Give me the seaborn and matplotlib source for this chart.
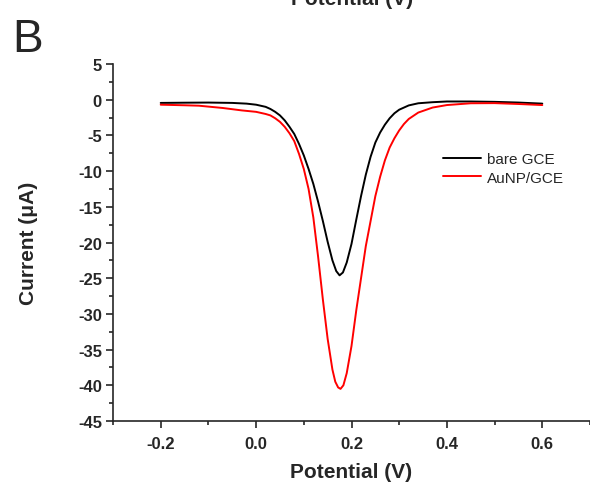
import pandas as pd
import matplotlib.pyplot as plt
import seaborn as sns
from matplotlib.ticker import MultipleLocator

# bare GCE curve
bare_v = [-0.20, -0.15, -0.10, -0.05, -0.02, 0.00, 0.02, 0.03, 0.04, 0.05,
          0.06, 0.07, 0.08, 0.09, 0.10, 0.11, 0.12, 0.13, 0.14, 0.15,
          0.16, 0.168, 0.175, 0.182, 0.19, 0.20, 0.21, 0.22, 0.23, 0.24,
          0.25, 0.26, 0.27, 0.28, 0.29, 0.30, 0.32, 0.34, 0.37, 0.40,
          0.45, 0.50, 0.55, 0.60]
bare_i = [-0.45, -0.42, -0.40, -0.45, -0.55, -0.70, -1.0, -1.3, -1.7, -2.2,
          -2.9, -3.8, -4.8, -6.2, -7.8, -9.7, -11.8, -14.3, -17.0, -19.9,
          -22.5, -24.0, -24.6, -24.2, -22.8, -20.2, -16.8, -13.5, -10.5, -8.0,
          -6.0, -4.6, -3.5, -2.6, -1.9, -1.4, -0.8, -0.5, -0.35, -0.25,
          -0.25, -0.30, -0.40, -0.55]

# AuNP/GCE curve
aunp_v = [-0.20, -0.15, -0.12, -0.07, -0.03, 0.00, 0.02, 0.03, 0.04, 0.05,
          0.06, 0.07, 0.08, 0.09, 0.10, 0.11, 0.12, 0.13, 0.14, 0.15,
          0.16, 0.166, 0.172, 0.177, 0.183, 0.19, 0.20, 0.21, 0.22, 0.23,
          0.24, 0.25, 0.26, 0.27, 0.28, 0.29, 0.30, 0.31, 0.32, 0.34,
          0.37, 0.40, 0.45, 0.50, 0.55, 0.60]
aunp_i = [-0.70, -0.78, -0.84, -1.16, -1.5, -1.7, -2.0, -2.2, -2.6, -3.1,
          -3.8, -4.7, -5.8, -7.6, -9.7, -12.5, -16.5, -22.0, -28.0, -33.5,
          -37.8, -39.5, -40.3, -40.5, -40.0, -38.3, -34.5, -29.5, -25.0, -20.5,
          -17.0, -13.5, -10.8, -8.5, -6.7, -5.4, -4.3, -3.4, -2.7, -1.8,
          -1.1, -0.75, -0.50, -0.48, -0.60, -0.75]

labels = ["bare GCE", "AuNP/GCE"]

df = pd.concat([
    pd.DataFrame({"Potential": bare_v, "Current": bare_i, "Electrode": labels[0]}),
    pd.DataFrame({"Potential": aunp_v, "Current": aunp_i, "Electrode": labels[1]}),
])

sns.set_style("ticks")
plt.rcParams["font.family"] = ["Liberation Sans", "DejaVu Sans"]
plt.rcParams["axes.unicode_minus"] = False

fig = plt.figure(figsize=(5.9, 4.89), dpi=100)
ax = fig.add_axes([113 / 590, 1 - 422 / 489, 1 - 113 / 590, (422 - 65) / 489])

sns.lineplot(data=df, x="Potential", y="Current", hue="Electrode",
             palette=["black", "#ff0000"], sort=False, estimator=None,
             linewidth=1.4, ax=ax)

ax.set_xlim(-0.3, 0.7)
ax.set_ylim(-45, 5)
ax.xaxis.set_major_locator(MultipleLocator(0.2))
ax.xaxis.set_minor_locator(MultipleLocator(0.1))
ax.yaxis.set_major_locator(MultipleLocator(5))
ax.yaxis.set_minor_locator(MultipleLocator(2.5))
ax.xaxis.set_major_formatter(lambda v, p: f"{v:.1f}")

sns.despine(ax=ax)
for s in ["left", "bottom"]:
    ax.spines[s].set_linewidth(1.2)
ax.tick_params(which="major", length=5, width=1.2, labelsize=12)
ax.tick_params(which="minor", length=3, width=1.2)
ax.tick_params(axis="y", pad=3)
ax.tick_params(axis="x", pad=6)
for t in ax.get_xticklabels() + ax.get_yticklabels():
    t.set_fontweight("bold")

ax.set_xlabel("Potential (V)", fontsize=15, fontweight="bold")
ax.set_ylabel("Current (\u03bcA)", fontsize=15, fontweight="bold")
ax.xaxis.set_label_coords(0.5, -0.115)
ax.yaxis.set_label_coords(-0.157, 0.5)

ax.legend(title=None, frameon=False, fontsize=11, loc="upper left",
          bbox_to_anchor=(443 / 590, 1 - 153 / 489), bbox_transform=fig.transFigure,
          borderaxespad=0, borderpad=0, handlelength=2.5, handletextpad=0.35,
          labelspacing=0.3)

fig.text(0.02, 1 - 52 / 489, "B", fontsize=33, va="baseline", ha="left")
# bottom of the title from the panel above, cut by the figure edge
fig.text(352 / 590, 1 - 5 / 489, "Potential (V)", fontsize=15, fontweight="bold",
         ha="center", va="baseline")

fig.savefig("out.png", dpi=100)
